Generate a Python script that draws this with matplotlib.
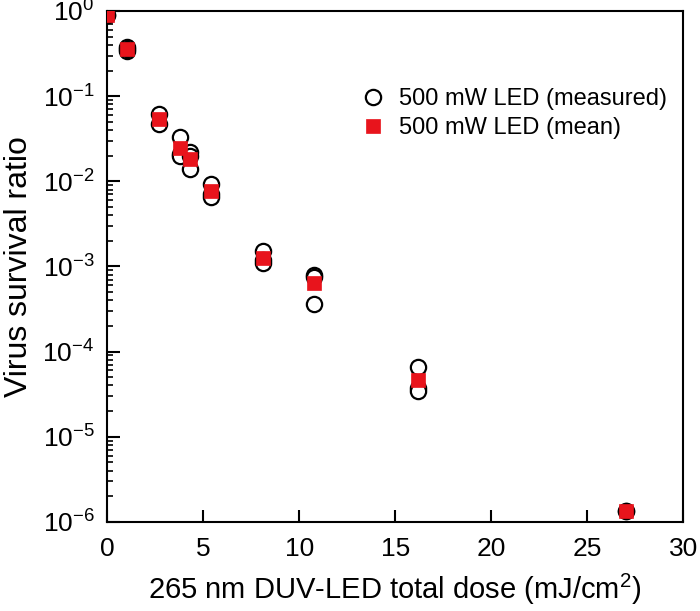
import matplotlib
matplotlib.use("Agg")
import matplotlib.pyplot as plt
import numpy as np

plt.rcParams['font.family'] = ['Liberation Sans', 'DejaVu Sans']
plt.rcParams['mathtext.fontset'] = 'custom'
plt.rcParams['mathtext.rm'] = 'Liberation Sans'
plt.rcParams['mathtext.it'] = 'Liberation Sans'

# measured data (dose mJ/cm^2, survival ratio)
measured_dose = [0, 0, 1.05, 1.05, 1.05, 2.7, 2.7, 3.8, 3.8, 3.8, 4.3, 4.3, 4.3,
                 5.4, 5.4, 5.4, 8.1, 8.1, 8.1, 10.8, 10.8, 10.8, 16.2, 16.2, 16.2,
                 27.0, 27.0]
measured_ratio = [0.9, 0.9, 0.38, 0.34, 0.36, 0.062, 0.047, 0.033, 0.021, 0.020,
                  0.0223, 0.020, 0.0138, 0.0093, 0.0070, 0.0065, 0.00150, 0.00118,
                  0.00110, 0.00080, 0.00076, 0.00036, 6.5e-5, 3.7e-5, 3.4e-5,
                  1.35e-6, 1.35e-6]

mean_dose = [0, 1.05, 2.7, 3.8, 4.3, 5.4, 8.1, 10.8, 16.2, 27.0]
mean_ratio = [0.9, 0.36, 0.054, 0.0245, 0.0185, 0.0076, 0.00126, 0.00064, 4.6e-5, 1.35e-6]

xtick_values = [0, 5, 10, 15, 20, 25, 30]
ytick_exponents = [-6, -5, -4, -3, -2, -1, 0]

fig = plt.figure(figsize=(7.0, 6.11), dpi=100)
ax = fig.add_axes([0.153, 0.146, 0.823, 0.836])

ax.plot(measured_dose, measured_ratio, linestyle='none', marker='o', markersize=11,
        markerfacecolor='white', markeredgecolor='black', markeredgewidth=1.6,
        label='500 mW LED (measured)', zorder=3)
ax.plot(mean_dose, mean_ratio, linestyle='none', marker='s', markersize=10,
        markerfacecolor='#e8141c', markeredgecolor='#e8141c', markeredgewidth=0.5,
        label='500 mW LED (mean)', zorder=4)

ax.set_yscale('log')
ax.set_xlim(0, 30)
ax.set_ylim(1e-6, 1)
ax.set_xticks(xtick_values)
ax.set_xticklabels([str(v) for v in xtick_values])
ax.set_yticks([10.0 ** e for e in ytick_exponents])
ax.set_yticklabels([r'$\mathregular{10^{%d}}$' % e for e in ytick_exponents])
ax.yaxis.set_minor_locator(matplotlib.ticker.LogLocator(base=10, subs=np.arange(2, 10), numticks=20))
ax.yaxis.set_minor_formatter(matplotlib.ticker.NullFormatter())

ax.tick_params(axis='both', which='major', direction='in', length=9, width=1.5,
               labelsize=19, top=False, right=False)
ax.tick_params(axis='x', which='major', pad=11)
ax.tick_params(axis='y', which='major', pad=9)
ax.tick_params(axis='y', which='minor', direction='in', length=4.5, width=1.2,
               right=False)
for s in ax.spines.values():
    s.set_linewidth(1.5)

ax.set_xlabel(r'265 nm DUV-LED total dose (mJ/cm$^{2}$)', fontsize=21, labelpad=8)
ax.set_ylabel('Virus survival ratio', fontsize=23, labelpad=6)

leg = ax.legend(loc='upper left', bbox_to_anchor=(0.424, 0.868), frameon=False,
                fontsize=17, handletextpad=0.6, labelspacing=0.3, borderaxespad=0,
                handlelength=1.0)

fig.savefig('out.png', dpi=100)
